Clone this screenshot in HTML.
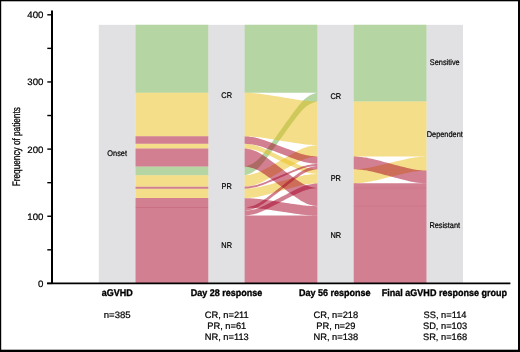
<!DOCTYPE html>
<html><head><meta charset="utf-8"><title>Alluvial plot</title>
<style>
html,body{margin:0;padding:0;background:#fff;}
body{width:520px;height:352px;position:relative;overflow:hidden;font-family:"Liberation Sans",sans-serif;color:#111;}
</style></head><body>
<svg width="520" height="352" viewBox="0 0 520 352" style="position:absolute;left:0;top:0">
<rect x="98.8" y="24.87" width="36.7" height="258.53" fill="#e1e1e3"/>
<rect x="208.3" y="24.87" width="36.3" height="258.53" fill="#e1e1e3"/>
<rect x="317.4" y="24.87" width="36.3" height="258.53" fill="#e1e1e3"/>
<rect x="426.5" y="24.87" width="36.5" height="258.53" fill="#e1e1e3"/>
<g shape-rendering="geometricPrecision">
<path d="M135.50 24.87H208.30V92.69H135.50Z" fill="#6bab47" fill-opacity="0.5"/>
<path d="M135.50 166.56H208.30V175.29H135.50Z" fill="#6bab47" fill-opacity="0.5"/>
<path d="M244.60 24.87H317.40V92.69H244.60Z" fill="#6bab47" fill-opacity="0.5"/>
<path d="M244.60 166.56L244.63 166.55L244.79 166.52L245.20 166.43L245.90 166.25L246.89 165.97L248.12 165.58L249.49 165.06L250.93 164.44L252.39 163.70L253.83 162.85L255.25 161.87L256.66 160.75L258.09 159.46L259.56 157.96L261.12 156.23L262.80 154.25L264.60 152.00L266.55 149.49L268.65 146.70L270.90 143.65L273.29 140.38L275.79 136.91L278.37 133.30L281.00 129.63L283.63 125.95L286.21 122.35L288.71 118.88L291.10 115.60L293.35 112.55L295.45 109.77L297.40 107.25L299.20 105.00L300.88 103.02L302.44 101.29L303.91 99.79L305.34 98.50L306.75 97.38L308.17 96.40L309.61 95.55L311.07 94.82L312.51 94.19L313.88 93.68L315.11 93.28L316.10 93.00L316.80 92.82L317.21 92.73L317.37 92.70L317.40 92.69L317.40 101.42L317.37 101.43L317.21 101.46L316.80 101.55L316.10 101.73L315.11 102.01L313.88 102.41L312.51 102.92L311.07 103.54L309.61 104.28L308.17 105.13L306.75 106.11L305.34 107.23L303.91 108.52L302.44 110.02L300.88 111.75L299.20 113.73L297.40 115.98L295.45 118.50L293.35 121.28L291.10 124.33L288.71 127.61L286.21 131.07L283.63 134.68L281.00 138.36L278.37 142.03L275.79 145.64L273.29 149.11L270.90 152.38L268.65 155.43L266.55 158.22L264.60 160.73L262.80 162.98L261.12 164.96L259.56 166.69L258.09 168.19L256.66 169.48L255.25 170.60L253.83 171.58L252.39 172.43L250.93 173.17L249.49 173.79L248.12 174.31L246.89 174.70L245.90 174.98L245.20 175.16L244.79 175.25L244.63 175.28L244.60 175.29Z" fill="#6bab47" fill-opacity="0.5"/>
<path d="M353.70 24.87H426.50V101.42H353.70Z" fill="#6bab47" fill-opacity="0.5"/>
<path d="M135.50 92.69H208.30V136.34H135.50Z" fill="#e9bd15" fill-opacity="0.5"/>
<path d="M135.50 143.73H208.30V148.43H135.50Z" fill="#e9bd15" fill-opacity="0.5"/>
<path d="M135.50 175.29H208.30V186.70H135.50Z" fill="#e9bd15" fill-opacity="0.5"/>
<path d="M135.50 188.72H208.30V198.12H135.50Z" fill="#e9bd15" fill-opacity="0.5"/>
<path d="M244.60 92.69L244.63 92.69L244.79 92.70L245.20 92.71L245.90 92.73L246.89 92.76L248.12 92.81L249.49 92.87L250.93 92.94L252.39 93.03L253.83 93.13L255.25 93.25L256.66 93.38L258.09 93.53L259.56 93.71L261.12 93.91L262.80 94.15L264.60 94.41L266.55 94.71L268.65 95.04L270.90 95.40L273.29 95.79L275.79 96.20L278.37 96.62L281.00 97.06L283.63 97.49L286.21 97.92L288.71 98.33L291.10 98.72L293.35 99.08L295.45 99.41L297.40 99.70L299.20 99.97L300.88 100.20L302.44 100.41L303.91 100.58L305.34 100.74L306.75 100.87L308.17 100.99L309.61 101.09L311.07 101.17L312.51 101.25L313.88 101.31L315.11 101.35L316.10 101.39L316.80 101.41L317.21 101.42L317.37 101.42L317.40 101.42L317.40 145.07L317.37 145.07L317.21 145.07L316.80 145.06L316.10 145.03L315.11 145.00L313.88 144.95L312.51 144.89L311.07 144.82L309.61 144.73L308.17 144.63L306.75 144.52L305.34 144.38L303.91 144.23L302.44 144.06L300.88 143.85L299.20 143.62L297.40 143.35L295.45 143.05L293.35 142.72L291.10 142.36L288.71 141.98L286.21 141.57L283.63 141.14L281.00 140.71L278.37 140.27L275.79 139.85L273.29 139.44L270.90 139.05L268.65 138.69L266.55 138.36L264.60 138.06L262.80 137.80L261.12 137.56L259.56 137.36L258.09 137.18L256.66 137.03L255.25 136.90L253.83 136.78L252.39 136.68L250.93 136.59L249.49 136.52L248.12 136.46L246.89 136.41L245.90 136.38L245.20 136.36L244.79 136.35L244.63 136.34L244.60 136.34Z" fill="#e9bd15" fill-opacity="0.5"/>
<path d="M244.60 143.73L244.63 143.73L244.79 143.74L245.20 143.77L245.90 143.83L246.89 143.93L248.12 144.07L249.49 144.24L250.93 144.46L252.39 144.72L253.83 145.01L255.25 145.35L256.66 145.73L258.09 146.18L259.56 146.70L261.12 147.29L262.80 147.98L264.60 148.76L266.55 149.63L268.65 150.59L270.90 151.64L273.29 152.77L275.79 153.97L278.37 155.22L281.00 156.49L283.63 157.76L286.21 159.00L288.71 160.20L291.10 161.33L293.35 162.38L295.45 163.35L297.40 164.22L299.20 164.99L300.88 165.68L302.44 166.28L303.91 166.79L305.34 167.24L306.75 167.63L308.17 167.96L309.61 168.26L311.07 168.51L312.51 168.73L313.88 168.91L315.11 169.04L316.10 169.14L316.80 169.20L317.21 169.23L317.37 169.24L317.40 169.24L317.40 173.95L317.37 173.94L317.21 173.93L316.80 173.90L316.10 173.84L315.11 173.74L313.88 173.61L312.51 173.43L311.07 173.21L309.61 172.96L308.17 172.66L306.75 172.33L305.34 171.94L303.91 171.49L302.44 170.98L300.88 170.38L299.20 169.69L297.40 168.92L295.45 168.05L293.35 167.09L291.10 166.03L288.71 164.90L286.21 163.70L283.63 162.46L281.00 161.19L278.37 159.92L275.79 158.67L273.29 157.47L270.90 156.34L268.65 155.29L266.55 154.33L264.60 153.46L262.80 152.68L261.12 152.00L259.56 151.40L258.09 150.88L256.66 150.43L255.25 150.05L253.83 149.71L252.39 149.42L250.93 149.16L249.49 148.95L248.12 148.77L246.89 148.63L245.90 148.53L245.20 148.47L244.79 148.44L244.63 148.43L244.60 148.43Z" fill="#e9bd15" fill-opacity="0.5"/>
<path d="M244.60 175.29L244.63 175.29L244.79 175.27L245.20 175.24L245.90 175.16L246.89 175.05L248.12 174.89L249.49 174.68L250.93 174.42L252.39 174.12L253.83 173.77L255.25 173.37L256.66 172.91L258.09 172.38L259.56 171.77L261.12 171.06L262.80 170.25L264.60 169.33L266.55 168.30L268.65 167.16L270.90 165.92L273.29 164.58L275.79 163.16L278.37 161.68L281.00 160.18L283.63 158.68L286.21 157.20L288.71 155.78L291.10 154.44L293.35 153.20L295.45 152.06L297.40 151.03L299.20 150.11L300.88 149.29L302.44 148.59L303.91 147.98L305.34 147.45L306.75 146.99L308.17 146.59L309.61 146.24L311.07 145.94L312.51 145.68L313.88 145.47L315.11 145.31L316.10 145.20L316.80 145.12L317.21 145.09L317.37 145.07L317.40 145.07L317.40 156.49L317.37 156.49L317.21 156.50L316.80 156.54L316.10 156.61L315.11 156.73L313.88 156.89L312.51 157.10L311.07 157.35L309.61 157.66L308.17 158.00L306.75 158.40L305.34 158.86L303.91 159.39L302.44 160.00L300.88 160.71L299.20 161.52L297.40 162.44L295.45 163.47L293.35 164.61L291.10 165.86L288.71 167.20L286.21 168.62L283.63 170.09L281.00 171.60L278.37 173.10L275.79 174.57L273.29 175.99L270.90 177.33L268.65 178.58L266.55 179.72L264.60 180.75L262.80 181.67L261.12 182.48L259.56 183.19L258.09 183.80L256.66 184.33L255.25 184.79L253.83 185.19L252.39 185.54L250.93 185.84L249.49 186.09L248.12 186.30L246.89 186.46L245.90 186.58L245.20 186.65L244.79 186.69L244.63 186.70L244.60 186.70Z" fill="#e9bd15" fill-opacity="0.5"/>
<path d="M244.60 188.72L244.63 188.72L244.79 188.71L245.20 188.69L245.90 188.66L246.89 188.60L248.12 188.52L249.49 188.42L250.93 188.29L252.39 188.15L253.83 187.98L255.25 187.78L256.66 187.56L258.09 187.30L259.56 187.00L261.12 186.65L262.80 186.26L264.60 185.81L266.55 185.30L268.65 184.75L270.90 184.14L273.29 183.48L275.79 182.79L278.37 182.07L281.00 181.33L283.63 180.60L286.21 179.88L288.71 179.18L291.10 178.53L293.35 177.92L295.45 177.36L297.40 176.86L299.20 176.41L300.88 176.01L302.44 175.66L303.91 175.37L305.34 175.11L306.75 174.88L308.17 174.69L309.61 174.52L311.07 174.37L312.51 174.24L313.88 174.14L315.11 174.06L316.10 174.01L316.80 173.97L317.21 173.95L317.37 173.95L317.40 173.95L317.40 183.35L317.37 183.35L317.21 183.35L316.80 183.37L316.10 183.41L315.11 183.46L313.88 183.54L312.51 183.65L311.07 183.77L309.61 183.92L308.17 184.09L306.75 184.28L305.34 184.51L303.91 184.77L302.44 185.07L300.88 185.41L299.20 185.81L297.40 186.26L295.45 186.76L293.35 187.32L291.10 187.93L288.71 188.58L286.21 189.28L283.63 190.00L281.00 190.73L278.37 191.47L275.79 192.19L273.29 192.88L270.90 193.54L268.65 194.15L266.55 194.70L264.60 195.21L262.80 195.66L261.12 196.05L259.56 196.40L258.09 196.70L256.66 196.96L255.25 197.18L253.83 197.38L252.39 197.55L250.93 197.70L249.49 197.82L248.12 197.92L246.89 198.00L245.90 198.06L245.20 198.09L244.79 198.11L244.63 198.12L244.60 198.12Z" fill="#e9bd15" fill-opacity="0.5"/>
<path d="M353.70 101.42H426.50V156.49H353.70Z" fill="#e9bd15" fill-opacity="0.5"/>
<path d="M353.70 169.24L353.73 169.24L353.89 169.24L354.30 169.22L355.00 169.19L355.99 169.14L357.22 169.08L358.59 168.99L360.03 168.88L361.49 168.75L362.93 168.60L364.35 168.44L365.76 168.24L367.19 168.02L368.66 167.76L370.22 167.46L371.90 167.12L373.70 166.73L375.65 166.30L377.75 165.81L380.00 165.29L382.39 164.72L384.89 164.12L387.47 163.50L390.10 162.87L392.73 162.23L395.31 161.61L397.81 161.01L400.20 160.44L402.45 159.92L404.55 159.44L406.50 159.00L408.30 158.61L409.98 158.27L411.54 157.97L413.01 157.71L414.44 157.49L415.85 157.30L417.27 157.13L418.71 156.98L420.17 156.85L421.61 156.74L422.98 156.66L424.21 156.59L425.20 156.54L425.90 156.51L426.31 156.49L426.47 156.49L426.50 156.49L426.50 170.59L426.47 170.59L426.31 170.59L425.90 170.61L425.20 170.64L424.21 170.69L422.98 170.76L421.61 170.85L420.17 170.95L418.71 171.08L417.27 171.23L415.85 171.40L414.44 171.59L413.01 171.81L411.54 172.07L409.98 172.37L408.30 172.71L406.50 173.10L404.55 173.54L402.45 174.02L400.20 174.54L397.81 175.11L395.31 175.71L392.73 176.33L390.10 176.97L387.47 177.60L384.89 178.22L382.39 178.82L380.00 179.39L377.75 179.92L375.65 180.40L373.70 180.83L371.90 181.22L370.22 181.56L368.66 181.86L367.19 182.12L365.76 182.34L364.35 182.54L362.93 182.71L361.49 182.85L360.03 182.98L358.59 183.09L357.22 183.18L355.99 183.25L355.00 183.29L354.30 183.32L353.89 183.34L353.73 183.35L353.70 183.35Z" fill="#e9bd15" fill-opacity="0.5"/>
<path d="M135.50 136.34H208.30V143.73H135.50Z" fill="#a50026" fill-opacity="0.5"/>
<path d="M135.50 148.43H208.30V166.56H135.50Z" fill="#a50026" fill-opacity="0.5"/>
<path d="M135.50 186.70H208.30V188.72H135.50Z" fill="#a50026" fill-opacity="0.5"/>
<path d="M135.50 198.12H208.30V283.40H135.50Z" fill="#a50026" fill-opacity="0.5"/>
<path d="M244.60 136.34L244.63 136.34L244.79 136.35L245.20 136.38L245.90 136.42L246.89 136.50L248.12 136.61L249.49 136.75L250.93 136.92L252.39 137.12L253.83 137.35L255.25 137.62L256.66 137.93L258.09 138.28L259.56 138.69L261.12 139.16L262.80 139.70L264.60 140.31L266.55 141.00L268.65 141.76L270.90 142.59L273.29 143.48L275.79 144.43L278.37 145.41L281.00 146.41L283.63 147.42L286.21 148.40L288.71 149.35L291.10 150.24L293.35 151.07L295.45 151.83L297.40 152.52L299.20 153.13L300.88 153.67L302.44 154.14L303.91 154.55L305.34 154.90L306.75 155.21L308.17 155.48L309.61 155.71L311.07 155.91L312.51 156.08L313.88 156.22L315.11 156.33L316.10 156.40L316.80 156.45L317.21 156.48L317.37 156.49L317.40 156.49L317.40 163.87L317.37 163.87L317.21 163.86L316.80 163.84L316.10 163.79L315.11 163.71L313.88 163.60L312.51 163.47L311.07 163.29L309.61 163.09L308.17 162.86L306.75 162.60L305.34 162.29L303.91 161.94L302.44 161.53L300.88 161.06L299.20 160.52L297.40 159.90L295.45 159.22L293.35 158.46L291.10 157.63L288.71 156.73L286.21 155.79L283.63 154.80L281.00 153.80L278.37 152.80L275.79 151.81L273.29 150.87L270.90 149.97L268.65 149.14L266.55 148.38L264.60 147.70L262.80 147.09L261.12 146.54L259.56 146.07L258.09 145.66L256.66 145.31L255.25 145.01L253.83 144.74L252.39 144.51L250.93 144.31L249.49 144.14L248.12 144.00L246.89 143.89L245.90 143.81L245.20 143.76L244.79 143.74L244.63 143.73L244.60 143.73Z" fill="#a50026" fill-opacity="0.5"/>
<path d="M244.60 148.43L244.63 148.43L244.79 148.45L245.20 148.50L245.90 148.59L246.89 148.74L248.12 148.96L249.49 149.23L250.93 149.57L252.39 149.96L253.83 150.42L255.25 150.94L256.66 151.54L258.09 152.24L259.56 153.04L261.12 153.97L262.80 155.03L264.60 156.24L266.55 157.59L268.65 159.08L270.90 160.71L273.29 162.47L275.79 164.33L278.37 166.27L281.00 168.24L283.63 170.21L286.21 172.14L288.71 174.00L291.10 175.76L293.35 177.40L295.45 178.89L297.40 180.24L299.20 181.44L300.88 182.51L302.44 183.44L303.91 184.24L305.34 184.93L306.75 185.53L308.17 186.06L309.61 186.51L311.07 186.91L312.51 187.24L313.88 187.52L315.11 187.73L316.10 187.88L316.80 187.98L317.21 188.03L317.37 188.04L317.40 188.05L317.40 206.18L317.37 206.18L317.21 206.16L316.80 206.11L316.10 206.01L315.11 205.86L313.88 205.65L312.51 205.38L311.07 205.04L309.61 204.64L308.17 204.19L306.75 203.66L305.34 203.06L303.91 202.37L302.44 201.57L300.88 200.64L299.20 199.57L297.40 198.37L295.45 197.02L293.35 195.53L291.10 193.89L288.71 192.13L286.21 190.27L283.63 188.34L281.00 186.37L278.37 184.40L275.79 182.46L273.29 180.60L270.90 178.84L268.65 177.21L266.55 175.72L264.60 174.37L262.80 173.16L261.12 172.10L259.56 171.17L258.09 170.37L256.66 169.67L255.25 169.07L253.83 168.55L252.39 168.09L250.93 167.70L249.49 167.36L248.12 167.09L246.89 166.87L245.90 166.72L245.20 166.63L244.79 166.58L244.63 166.56L244.60 166.56Z" fill="#a50026" fill-opacity="0.5"/>
<path d="M244.60 186.70L244.63 186.70L244.79 186.69L245.20 186.66L245.90 186.61L246.89 186.52L248.12 186.40L249.49 186.24L250.93 186.05L252.39 185.82L253.83 185.56L255.25 185.26L256.66 184.91L258.09 184.51L259.56 184.05L261.12 183.51L262.80 182.90L264.60 182.20L266.55 181.43L268.65 180.57L270.90 179.62L273.29 178.61L275.79 177.54L278.37 176.42L281.00 175.29L283.63 174.15L286.21 173.04L288.71 171.97L291.10 170.95L293.35 170.01L295.45 169.15L297.40 168.37L299.20 167.68L300.88 167.06L302.44 166.53L303.91 166.07L305.34 165.67L306.75 165.32L308.17 165.02L309.61 164.76L311.07 164.53L312.51 164.34L313.88 164.18L315.11 164.05L316.10 163.97L316.80 163.91L317.21 163.88L317.37 163.87L317.40 163.87L317.40 165.89L317.37 165.89L317.21 165.90L316.80 165.93L316.10 165.98L315.11 166.07L313.88 166.19L312.51 166.35L311.07 166.54L309.61 166.77L308.17 167.03L306.75 167.34L305.34 167.68L303.91 168.08L302.44 168.54L300.88 169.08L299.20 169.69L297.40 170.39L295.45 171.16L293.35 172.03L291.10 172.97L288.71 173.98L286.21 175.05L283.63 176.17L281.00 177.30L278.37 178.44L275.79 179.55L273.29 180.63L270.90 181.64L268.65 182.58L266.55 183.44L264.60 184.22L262.80 184.91L261.12 185.53L259.56 186.06L258.09 186.52L256.66 186.92L255.25 187.27L253.83 187.57L252.39 187.84L250.93 188.06L249.49 188.26L248.12 188.41L246.89 188.54L245.90 188.62L245.20 188.68L244.79 188.71L244.63 188.72L244.60 188.72Z" fill="#a50026" fill-opacity="0.5"/>
<path d="M244.60 198.12L244.63 198.12L244.79 198.12L245.20 198.13L245.90 198.15L246.89 198.18L248.12 198.23L249.49 198.28L250.93 198.35L252.39 198.43L253.83 198.52L255.25 198.63L256.66 198.75L258.09 198.89L259.56 199.06L261.12 199.25L262.80 199.46L264.60 199.71L266.55 199.98L268.65 200.29L270.90 200.62L273.29 200.98L275.79 201.35L278.37 201.75L281.00 202.15L283.63 202.55L286.21 202.94L288.71 203.32L291.10 203.68L293.35 204.01L295.45 204.31L297.40 204.59L299.20 204.83L300.88 205.05L302.44 205.24L303.91 205.40L305.34 205.54L306.75 205.67L308.17 205.77L309.61 205.87L311.07 205.95L312.51 206.01L313.88 206.07L315.11 206.11L316.10 206.14L316.80 206.16L317.21 206.17L317.37 206.18L317.40 206.18L317.40 215.58L317.37 215.58L317.21 215.57L316.80 215.56L316.10 215.55L315.11 215.51L313.88 215.47L312.51 215.42L311.07 215.35L309.61 215.27L308.17 215.17L306.75 215.07L305.34 214.94L303.91 214.80L302.44 214.64L300.88 214.45L299.20 214.24L297.40 213.99L295.45 213.72L293.35 213.41L291.10 213.08L288.71 212.72L286.21 212.34L283.63 211.95L281.00 211.55L278.37 211.15L275.79 210.76L273.29 210.38L270.90 210.02L268.65 209.69L266.55 209.38L264.60 209.11L262.80 208.86L261.12 208.65L259.56 208.46L258.09 208.30L256.66 208.15L255.25 208.03L253.83 207.93L252.39 207.83L250.93 207.75L249.49 207.68L248.12 207.63L246.89 207.58L245.90 207.55L245.20 207.53L244.79 207.52L244.63 207.52L244.60 207.52Z" fill="#a50026" fill-opacity="0.5"/>
<path d="M244.60 207.52L244.63 207.52L244.79 207.50L245.20 207.45L245.90 207.35L246.89 207.19L248.12 206.97L249.49 206.68L250.93 206.32L252.39 205.91L253.83 205.43L255.25 204.88L256.66 204.25L258.09 203.52L259.56 202.68L261.12 201.70L262.80 200.58L264.60 199.32L266.55 197.90L268.65 196.33L270.90 194.61L273.29 192.76L275.79 190.81L278.37 188.78L281.00 186.70L283.63 184.63L286.21 182.60L288.71 180.64L291.10 178.80L293.35 177.08L295.45 175.51L297.40 174.09L299.20 172.83L300.88 171.71L302.44 170.73L303.91 169.89L305.34 169.16L306.75 168.53L308.17 167.98L309.61 167.50L311.07 167.08L312.51 166.73L313.88 166.44L315.11 166.22L316.10 166.06L316.80 165.96L317.21 165.91L317.37 165.89L317.40 165.89L317.40 169.24L317.37 169.25L317.21 169.27L316.80 169.32L316.10 169.42L315.11 169.58L313.88 169.80L312.51 170.09L311.07 170.44L309.61 170.86L308.17 171.34L306.75 171.89L305.34 172.52L303.91 173.25L302.44 174.09L300.88 175.06L299.20 176.18L297.40 177.45L295.45 178.87L293.35 180.44L291.10 182.15L288.71 184.00L286.21 185.96L283.63 187.99L281.00 190.06L278.37 192.13L275.79 194.17L273.29 196.12L270.90 197.97L268.65 199.68L266.55 201.25L264.60 202.67L262.80 203.94L261.12 205.06L259.56 206.03L258.09 206.88L256.66 207.60L255.25 208.24L253.83 208.79L252.39 209.27L250.93 209.68L249.49 210.03L248.12 210.32L246.89 210.55L245.90 210.71L245.20 210.81L244.79 210.86L244.63 210.88L244.60 210.88Z" fill="#a50026" fill-opacity="0.5"/>
<path d="M244.60 210.88L244.63 210.88L244.79 210.86L245.20 210.83L245.90 210.76L246.89 210.66L248.12 210.51L249.49 210.32L250.93 210.09L252.39 209.81L253.83 209.50L255.25 209.13L256.66 208.71L258.09 208.23L259.56 207.67L261.12 207.03L262.80 206.29L264.60 205.45L266.55 204.51L268.65 203.48L270.90 202.34L273.29 201.12L275.79 199.83L278.37 198.48L281.00 197.11L283.63 195.74L286.21 194.40L288.71 193.11L291.10 191.88L293.35 190.75L295.45 189.71L297.40 188.77L299.20 187.94L300.88 187.19L302.44 186.55L303.91 185.99L305.34 185.51L306.75 185.09L308.17 184.73L309.61 184.41L311.07 184.14L312.51 183.90L313.88 183.71L315.11 183.57L316.10 183.46L316.80 183.39L317.21 183.36L317.37 183.35L317.40 183.35L317.40 188.05L317.37 188.05L317.21 188.06L316.80 188.09L316.10 188.16L315.11 188.27L313.88 188.41L312.51 188.60L311.07 188.84L309.61 189.11L308.17 189.43L306.75 189.79L305.34 190.21L303.91 190.69L302.44 191.25L300.88 191.90L299.20 192.64L297.40 193.47L295.45 194.41L293.35 195.45L291.10 196.58L288.71 197.81L286.21 199.10L283.63 200.44L281.00 201.81L278.37 203.18L275.79 204.53L273.29 205.82L270.90 207.04L268.65 208.18L266.55 209.21L264.60 210.15L262.80 210.99L261.12 211.73L259.56 212.37L258.09 212.93L256.66 213.41L255.25 213.83L253.83 214.20L252.39 214.51L250.93 214.79L249.49 215.02L248.12 215.21L246.89 215.36L245.90 215.46L245.20 215.53L244.79 215.56L244.63 215.58L244.60 215.58Z" fill="#a50026" fill-opacity="0.5"/>
<path d="M244.60 215.58H317.40V283.40H244.60Z" fill="#a50026" fill-opacity="0.5"/>
<path d="M353.70 156.49L353.73 156.49L353.89 156.49L354.30 156.51L355.00 156.54L355.99 156.60L357.22 156.67L358.59 156.77L360.03 156.89L361.49 157.03L362.93 157.19L364.35 157.38L365.76 157.60L367.19 157.84L368.66 158.13L370.22 158.46L371.90 158.84L373.70 159.27L375.65 159.75L377.75 160.28L380.00 160.86L382.39 161.48L384.89 162.15L387.47 162.84L390.10 163.54L392.73 164.24L395.31 164.93L397.81 165.59L400.20 166.22L402.45 166.80L404.55 167.33L406.50 167.81L408.30 168.24L409.98 168.62L411.54 168.95L413.01 169.23L414.44 169.48L415.85 169.69L417.27 169.88L418.71 170.04L420.17 170.18L421.61 170.30L422.98 170.40L424.21 170.48L425.20 170.53L425.90 170.56L426.31 170.58L426.47 170.59L426.50 170.59L426.50 183.35L426.47 183.35L426.31 183.34L425.90 183.32L425.20 183.29L424.21 183.23L422.98 183.16L421.61 183.06L420.17 182.94L418.71 182.80L417.27 182.64L415.85 182.45L414.44 182.24L413.01 181.99L411.54 181.71L409.98 181.38L408.30 181.00L406.50 180.57L404.55 180.09L402.45 179.56L400.20 178.97L397.81 178.35L395.31 177.69L392.73 177.00L390.10 176.30L387.47 175.59L384.89 174.91L382.39 174.24L380.00 173.62L377.75 173.04L375.65 172.50L373.70 172.02L371.90 171.60L370.22 171.22L368.66 170.89L367.19 170.60L365.76 170.35L364.35 170.14L362.93 169.95L361.49 169.79L360.03 169.65L358.59 169.53L357.22 169.43L355.99 169.36L355.00 169.30L354.30 169.27L353.89 169.25L353.73 169.25L353.70 169.24Z" fill="#a50026" fill-opacity="0.5"/>
<path d="M353.70 183.35H426.50V283.40H353.70Z" fill="#a50026" fill-opacity="0.5"/>
<rect x="135.5" y="207.17" width="72.8" height="0.7" fill="#a50026" fill-opacity="0.18"/>
<rect x="353.7" y="187.70" width="72.8" height="0.7" fill="#a50026" fill-opacity="0.08"/>
<rect x="353.7" y="205.75" width="72.8" height="0.7" fill="#a50026" fill-opacity="0.08"/>
</g>
<path d="M52 10.6V283.4" stroke="#000" stroke-width="2" fill="none"/>
<path d="M47 283.4H510.4" stroke="#000" stroke-width="1.6" fill="none"/>
<path d="M47.3 283.40H52" stroke="#000" stroke-width="1.4"/>
<path d="M47.3 249.82H52" stroke="#000" stroke-width="1.4"/>
<path d="M47.3 216.25H52" stroke="#000" stroke-width="1.4"/>
<path d="M47.3 182.67H52" stroke="#000" stroke-width="1.4"/>
<path d="M47.3 149.10H52" stroke="#000" stroke-width="1.4"/>
<path d="M47.3 115.52H52" stroke="#000" stroke-width="1.4"/>
<path d="M47.3 81.95H52" stroke="#000" stroke-width="1.4"/>
<path d="M47.3 48.37H52" stroke="#000" stroke-width="1.4"/>
<path d="M47.3 14.80H52" stroke="#000" stroke-width="1.4"/>
</svg>
<svg width="520" height="352" viewBox="0 0 520 352" style="position:absolute;left:0;top:0;will-change:transform" font-family="Liberation Sans, sans-serif" text-rendering="geometricPrecision">
<text x="43.40" y="286.80" font-size="9.30" text-anchor="end" fill="#000" stroke="#000" stroke-width="0.22" transform="translate(43.40 0) scale(1.040 1) translate(-43.40 0)">0</text>
<text x="43.40" y="219.65" font-size="9.30" text-anchor="end" fill="#000" stroke="#000" stroke-width="0.22" transform="translate(43.40 0) scale(1.040 1) translate(-43.40 0)">100</text>
<text x="43.40" y="152.50" font-size="9.30" text-anchor="end" fill="#000" stroke="#000" stroke-width="0.22" transform="translate(43.40 0) scale(1.040 1) translate(-43.40 0)">200</text>
<text x="43.40" y="85.35" font-size="9.30" text-anchor="end" fill="#000" stroke="#000" stroke-width="0.22" transform="translate(43.40 0) scale(1.040 1) translate(-43.40 0)">300</text>
<text x="43.40" y="18.20" font-size="9.30" text-anchor="end" fill="#000" stroke="#000" stroke-width="0.22" transform="translate(43.40 0) scale(1.040 1) translate(-43.40 0)">400</text>
<text x="117.15" y="156.39" font-size="8.20" text-anchor="middle" fill="#000" stroke="#000" stroke-width="0.22" transform="translate(117.15 0) scale(0.900 1) translate(-117.15 0)">Onset</text>
<text x="226.65" y="97.97" font-size="8.20" text-anchor="middle" fill="#000" stroke="#000" stroke-width="0.22" transform="translate(226.65 0) scale(0.900 1) translate(-226.65 0)">CR</text>
<text x="226.65" y="189.29" font-size="8.20" text-anchor="middle" fill="#000" stroke="#000" stroke-width="0.22" transform="translate(226.65 0) scale(0.900 1) translate(-226.65 0)">PR</text>
<text x="226.65" y="248.11" font-size="8.20" text-anchor="middle" fill="#000" stroke="#000" stroke-width="0.22" transform="translate(226.65 0) scale(0.900 1) translate(-226.65 0)">NR</text>
<text x="335.75" y="99.31" font-size="8.20" text-anchor="middle" fill="#000" stroke="#000" stroke-width="0.22" transform="translate(335.75 0) scale(0.900 1) translate(-335.75 0)">CR</text>
<text x="335.75" y="180.90" font-size="8.20" text-anchor="middle" fill="#000" stroke="#000" stroke-width="0.22" transform="translate(335.75 0) scale(0.900 1) translate(-335.75 0)">PR</text>
<text x="335.75" y="237.97" font-size="8.20" text-anchor="middle" fill="#000" stroke="#000" stroke-width="0.22" transform="translate(335.75 0) scale(0.900 1) translate(-335.75 0)">NR</text>
<text x="444.75" y="65.40" font-size="8.20" text-anchor="middle" fill="#000" stroke="#000" stroke-width="0.22" transform="translate(444.75 0) scale(0.900 1) translate(-444.75 0)">Sensitive</text>
<text x="444.75" y="137.46" font-size="8.20" text-anchor="middle" fill="#000" stroke="#000" stroke-width="0.22" transform="translate(444.75 0) scale(0.900 1) translate(-444.75 0)">Dependent</text>
<text x="444.75" y="228.04" font-size="8.20" text-anchor="middle" fill="#000" stroke="#000" stroke-width="0.22" transform="translate(444.75 0) scale(0.900 1) translate(-444.75 0)">Resistant</text>
<text x="117.30" y="296.00" font-size="9.70" font-weight="bold" text-anchor="middle" fill="#000" stroke="#000" stroke-width="0.35" transform="translate(117.30 0) scale(0.930 1) translate(-117.30 0)">aGVHD</text>
<text x="226.50" y="296.00" font-size="9.70" font-weight="bold" text-anchor="middle" fill="#000" stroke="#000" stroke-width="0.35" transform="translate(226.50 0) scale(0.930 1) translate(-226.50 0)">Day 28 response</text>
<text x="334.80" y="296.00" font-size="9.70" font-weight="bold" text-anchor="middle" fill="#000" stroke="#000" stroke-width="0.35" transform="translate(334.80 0) scale(0.930 1) translate(-334.80 0)">Day 56 response</text>
<text x="444.40" y="296.00" font-size="9.70" font-weight="bold" text-anchor="middle" fill="#000" stroke="#000" stroke-width="0.35" transform="translate(444.40 0) scale(0.930 1) translate(-444.40 0)">Final aGVHD response group</text>
<text x="117.20" y="318.30" font-size="9.30" text-anchor="middle" fill="#000" stroke="#000" stroke-width="0.22" transform="translate(117.20 0) scale(1.030 1) translate(-117.20 0)">n=385</text>
<text x="226.75" y="318.30" font-size="9.30" text-anchor="middle" fill="#000" stroke="#000" stroke-width="0.22">CR, n=211</text>
<text x="226.75" y="329.30" font-size="9.30" text-anchor="middle" fill="#000" stroke="#000" stroke-width="0.22">PR, n=61</text>
<text x="226.75" y="340.30" font-size="9.30" text-anchor="middle" fill="#000" stroke="#000" stroke-width="0.22">NR, n=113</text>
<text x="335.85" y="318.30" font-size="9.30" text-anchor="middle" fill="#000" stroke="#000" stroke-width="0.22">CR, n=218</text>
<text x="335.85" y="329.30" font-size="9.30" text-anchor="middle" fill="#000" stroke="#000" stroke-width="0.22">PR, n=29</text>
<text x="335.85" y="340.30" font-size="9.30" text-anchor="middle" fill="#000" stroke="#000" stroke-width="0.22">NR, n=138</text>
<text x="445.05" y="318.30" font-size="9.30" text-anchor="middle" fill="#000" stroke="#000" stroke-width="0.22">SS, n=114</text>
<text x="445.05" y="329.30" font-size="9.30" text-anchor="middle" fill="#000" stroke="#000" stroke-width="0.22">SD, n=103</text>
<text x="445.05" y="340.30" font-size="9.30" text-anchor="middle" fill="#000" stroke="#000" stroke-width="0.22">SR, n=168</text>
<text x="0" y="0" font-size="10.9" text-anchor="middle" fill="#000" stroke="#000" stroke-width="0.3" transform="translate(19.5 146.7) rotate(-90) scale(0.755 1)">Frequency of patients</text>
</svg>
<svg width="520" height="352" style="position:absolute;left:0;top:0"><rect x="0" y="0" width="520" height="1.3"/><rect x="0" y="0" width="1.2" height="352"/><rect x="518" y="0" width="2" height="352"/><rect x="0" y="349.7" width="520" height="2.3"/></svg>
</body></html>
